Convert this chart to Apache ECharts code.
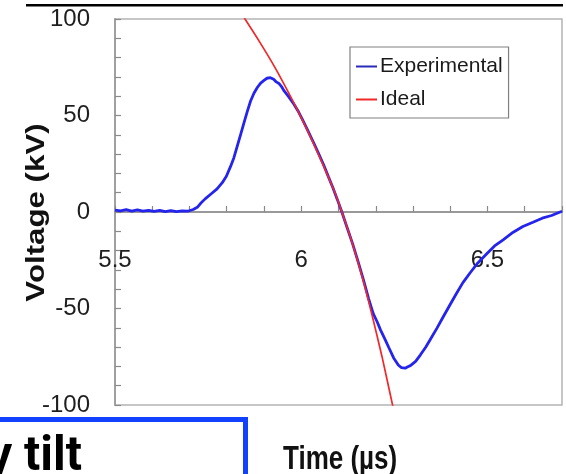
<!DOCTYPE html>
<html>
<head>
<meta charset="utf-8">
<script src="https://cdn.jsdelivr.net/npm/echarts@6/dist/echarts.min.js"></script>
<style>html,body{margin:0;padding:0;background:#fff}#c{width:566px;height:474px}</style>
</head>
<body>
<div id="c"></div>
<script>
var expTime = [5.500,5.515,5.530,5.545,5.560,5.575,5.590,5.605,5.620,5.635,5.650,5.665,5.680,5.695,5.710,5.722,5.730,5.742,5.760,5.774,5.788,5.799,5.810,5.819,5.828,5.837,5.846,5.855,5.864,5.873,5.882,5.891,5.900,5.908,5.917,5.926,5.933,5.940,5.947,5.953,5.966,5.980,5.993,6.006,6.019,6.033,6.046,6.060,6.073,6.085,6.097,6.109,6.123,6.138,6.153,6.167,6.181,6.193,6.204,6.213,6.224,6.235,6.248,6.261,6.269,6.279,6.286,6.293,6.307,6.320,6.334,6.346,6.364,6.382,6.399,6.417,6.434,6.453,6.474,6.498,6.519,6.542,6.568,6.595,6.622,6.647,6.672,6.700];
var expVoltage = [1.0,0.6,1.2,0.5,1.1,0.4,0.9,0.3,0.8,0.2,0.7,0.2,0.6,0.4,1.3,2.6,4.5,6.8,9.7,12.0,15.2,18.5,23.5,28.0,34.0,40.0,46.0,52.0,57.5,61.5,64.5,66.8,68.2,69.3,69.6,68.8,67.4,66.6,65.0,63.0,59.8,56.0,51.8,46.8,41.6,36.0,30.5,24.5,18.2,12.6,6.4,0.0,-8.0,-16.5,-26.0,-35.2,-45.0,-52.5,-57.0,-61.2,-65.6,-70.2,-75.6,-79.4,-80.6,-80.9,-80.2,-79.6,-77.4,-74.0,-70.1,-66.2,-60.3,-54.0,-48.2,-42.1,-36.6,-31.6,-26.4,-21.6,-17.6,-14.4,-10.6,-7.5,-5.3,-3.2,-1.8,0.4];
var idealTime = [5.822,5.849,5.889,5.930,5.970,6.010,6.050,6.091,6.109,6.136,6.163,6.190,6.217,6.246,6.265];
var idealVoltage = [107.8,100,87.9,74.7,60.3,44.9,28.2,9.7,0,-15.5,-33.2,-53.4,-75.1,-100.8,-117];
var seriesNames = ['Experimental','Ideal'];
var xTickLabels = [5.5, 6, 6.5];
var yTickLabels = [-100, -50, 0, 50, 100];
var xTitle = 'Time (\u00b5s)';
var yTitle = 'Voltage (kV)';
var boxText = 'y tilt';

function zip(a, b) { return a.map(function (v, i) { return [v, b[i]]; }); }
function inList(list, v) { return list.some(function (t) { return Math.abs(t - v) < 1e-6; }); }

var chart = echarts.init(document.getElementById('c'), null, {renderer: 'canvas'});
var FONT = "'Liberation Sans', Arial, sans-serif";
chart.setOption({
  animation: false,
  backgroundColor: '#ffffff',
  grid: {left: 115, right: 4, top: 19, bottom: 69, show: true, borderColor: '#b4b4b4', borderWidth: 1.5, backgroundColor: '#fff'},
  legend: {
    data: seriesNames,
    orient: 'vertical',
    left: 350, top: 47,
    padding: [9, 6, 8, 6],
    itemGap: 12,
    itemWidth: 21, itemHeight: 2,
    icon: 'rect',
    borderColor: '#808080', borderWidth: 1.2,
    backgroundColor: '#fff',
    textStyle: {fontFamily: FONT, fontSize: 21, color: '#1a1a1a', padding: [0, 0, 0, -2]}
  },
  xAxis: {
    type: 'value', min: 5.5, max: 6.7, interval: 0.1,
    axisLine: {show: true, onZero: true, lineStyle: {color: '#999', width: 2}},
    axisTick: {show: true, inside: true, length: 6, lineStyle: {color: '#8a8a8a', width: 1.2}},
    splitLine: {show: false},
    axisLabel: {
      margin: -157, fontFamily: FONT, fontSize: 24, color: '#1e1e1e',
      formatter: function (v) { return inList(xTickLabels, v) ? String(Math.round(v * 10) / 10) : ''; }
    }
  },
  yAxis: {
    type: 'value', min: -100, max: 100, interval: 10,
    axisLine: {show: true, lineStyle: {color: '#a0a0a0', width: 2}},
    axisTick: {show: true, inside: true, length: 6, lineStyle: {color: '#8a8a8a', width: 1.2}},
    splitLine: {show: false},
    axisLabel: {
      margin: 25, fontFamily: FONT, fontSize: 24, color: '#1e1e1e',
      formatter: function (v) { return inList(yTickLabels, v) ? String(v) : ''; }
    }
  },
  series: [
    {name: seriesNames[0], type: 'line', data: zip(expTime, expVoltage), showSymbol: false, clip: true,
     lineStyle: {color: '#2424ec', width: 2.8}, itemStyle: {color: '#2a2ab8'}, z: 2},
    {name: seriesNames[1], type: 'line', data: zip(idealTime, idealVoltage), showSymbol: false, clip: true, smooth: 0.2,
     lineStyle: {color: '#f02828', width: 1.7}, itemStyle: {color: '#f02828'}, z: 3}
  ],
  graphic: [
    {type: 'rect', shape: {x: 26, y: 4, width: 537, height: 2.5}, style: {fill: '#000'}, z: 10},
    {type: 'rect', shape: {x: -6, y: 419.5, width: 251.5, height: 120}, style: {fill: '#fff', stroke: '#1240ff', lineWidth: 5}, z: 10},
    {type: 'text', x: 82, y: 458, scaleY: 1.02, z: 11,
     style: {text: boxText, fill: '#000', font: "bold 48px Roboto, 'Liberation Sans', sans-serif", align: 'right', verticalAlign: 'middle'}},
    {type: 'text', x: 283, y: 460, scaleY: 1.25, z: 11,
     style: {text: xTitle, fill: '#111', font: "bold 26px 'Liberation Sans', Arial, sans-serif", align: 'left', verticalAlign: 'middle'}},
    {type: 'text', x: 37, y: 212.5, rotation: Math.PI / 2, scaleX: 1.25, z: 11,
     style: {text: yTitle, fill: '#111', font: "bold 25px 'Liberation Sans', Arial, sans-serif", align: 'center', verticalAlign: 'middle'}}
  ]
});
</script>
</body>
</html>
